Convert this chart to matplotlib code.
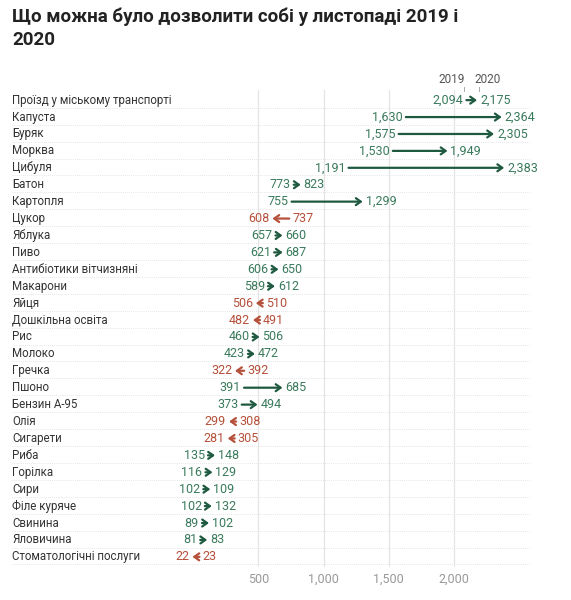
import matplotlib.pyplot as plt
import numpy as np

plt.rcParams['font.family'] = ['Roboto', 'DejaVu Sans']

items = ['Проїзд у міському транспорті', 'Капуста', 'Буряк', 'Морква', 'Цибуля', 'Батон',
         'Картопля', 'Цукор', 'Яблука', 'Пиво', 'Антибіотики вітчизняні', 'Макарони', 'Яйця',
         'Дошкільна освіта', 'Рис', 'Молоко', 'Гречка', 'Пшоно', 'Бензин А-95', 'Олія',
         'Сигарети', 'Риба', 'Горілка', 'Сири', 'Філе куряче', 'Свинина', 'Яловичина',
         'Стоматологічні послуги']
v2019 = [2094, 1630, 1575, 1530, 1191, 773, 755, 737, 657, 621, 606, 589, 510, 491, 460, 423,
         392, 391, 373, 308, 305, 135, 116, 102, 102, 89, 81, 23]
v2020 = [2175, 2364, 2305, 1949, 2383, 823, 1299, 608, 660, 687, 650, 612, 506, 482, 506, 472,
         322, 685, 494, 299, 281, 148, 129, 109, 132, 102, 83, 22]
xticks = [500, 1000, 1500, 2000]

green_txt = '#3a7a5c'
green = '#1f5a40'
red = '#b5503a'

fig = plt.figure(figsize=(5.71, 6), dpi=100)
ax = fig.add_axes([0.338, 0.055, 0.59, 0.795])
n = len(items)
ax.set_xlim(0, 2580)
ax.set_ylim(n - 0.4, -0.6)
for s in ax.spines.values():
    s.set_visible(False)
ax.set_yticks([])
ax.set_xticks(xticks)
ax.set_xticklabels([f'{t:,}' for t in xticks], color='#999999', fontsize=9)
ax.tick_params(axis='x', length=0, pad=4)
for t in xticks:
    ax.axvline(t, color='#e4e4e4', lw=0.9, zorder=0)

trans = ax.get_yaxis_transform()
upx = 2580 / (0.59 * 571)  # data units per pixel
label_x = (12 / 571 - 0.338) / 0.59
for i, (name, a, b) in enumerate(zip(items, v2019, v2020)):
    ax.plot([label_x, 1.0], [i + 0.45, i + 0.45], transform=trans, color='#dddddd',
            lw=0.6, ls=(0, (1, 1.5)), clip_on=False, zorder=0)
    ax.text(label_x, i, name, transform=trans, fontsize=8.3,
            color='#333333', va='center', ha='left')
    up = b >= a
    tc = green_txt if up else red
    ac = green if up else red
    lo, hi = min(a, b), max(a, b)
    c = (lo + hi) / 2
    half = 3.5 * upx
    if hi - lo < 2 * half:
        lo, hi = c - half, c + half
    gap = 3 * upx
    ax.text(lo - gap, i, f'{min(a, b):,}', color=tc, fontsize=9, ha='right', va='center')
    ax.text(hi + gap, i, f'{max(a, b):,}', color=tc, fontsize=9, ha='left', va='center')
    start, end = (lo, hi) if up else (hi, lo)
    ax.annotate('', xy=(end, i), xytext=(start, i), annotation_clip=False,
                arrowprops=dict(arrowstyle='->,head_length=0.35,head_width=0.25', lw=1.6,
                                color=ac, shrinkA=0, shrinkB=0, clip_on=False))
    if i == 0:
        ax.text(lo - gap - 12 * upx, -0.85, '2019', fontsize=8.5, color='#555555', ha='center', va='bottom')
        ax.text(hi + gap + 8 * upx, -0.85, '2020', fontsize=8.5, color='#555555', ha='center', va='bottom')
        ax.plot([lo - 2 * upx] * 2, [-0.8, -0.55], color='#aaaaaa', lw=0.7, clip_on=False)
        ax.plot([hi + 2 * upx] * 2, [-0.8, -0.55], color='#aaaaaa', lw=0.7, clip_on=False)

fig.text(12 / 571, 1 - 8 / 600, 'Що можна було дозволити собі у листопаді 2019 і\n2020',
         fontsize=13.5, fontweight='bold', color='#222222', va='top', ha='left', linespacing=1.35)
fig.savefig('out.png', dpi=100, facecolor='white')
